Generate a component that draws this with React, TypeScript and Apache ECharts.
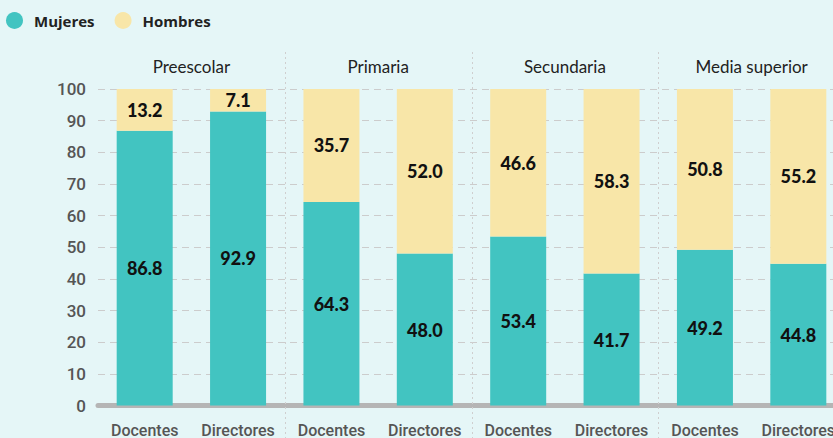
import React, { useEffect, useRef } from "react";
import * as echarts from "echarts";

const categories = ["Docentes", "Directores", "Docentes", "Directores", "Docentes", "Directores", "Docentes", "Directores"];
const groups = ["Preescolar", "Primaria", "Secundaria", "Media superior"];
const mujeres = [86.8, 92.9, 64.3, 48.0, 53.4, 41.7, 49.2, 44.8];
const hombres = [13.2, 7.1, 35.7, 52.0, 46.6, 58.3, 50.8, 55.2];
const yTicks = { min: 0, max: 100, interval: 10 };

const TEAL = "#42C4C1";
const YELLOW = "#F8E6A8";

export default function App() {
  const ref = useRef<HTMLDivElement>(null);
  useEffect(() => {
    if (!ref.current) return;
    const chart = echarts.init(ref.current, null, { renderer: "svg" });
    const labelStyle = {
      show: true,
      position: "inside",
      formatter: (p: any) => Number(p.value).toFixed(1),
      fontFamily: "Lato",
      fontWeight: 900,
      fontSize: 18,
      color: "#111",
    };
    chart.setOption({
      animation: false,
      backgroundColor: "#E5F6F7",
      legend: {
        left: 1,
        top: 7,
        icon: "circle",
        itemWidth: 17,
        itemHeight: 17,
        itemGap: 20,
        textStyle: { fontFamily: "Open Sans", fontWeight: "bold", fontSize: 15, color: "#222", padding: [0, 0, 0, 6] },
        data: ["Mujeres", "Hombres"],
      },
      grid: { left: 98, top: 89, bottom: 30, right: 0, containLabel: false },
      xAxis: [
        {
          type: "category",
          data: categories,
          offset: 2.5,
          axisLine: { lineStyle: { color: "#B5B5B5", width: 5 } },
          axisTick: { show: false },
          axisLabel: { interval: 0, fontFamily: "Roboto", fontWeight: 500, fontSize: 16, color: "#555", margin: 14 },
          z: 0,
        },
        {
          type: "category",
          data: groups,
          position: "top",
          axisLine: { show: false },
          axisTick: { show: false },
          axisLabel: { interval: 0, fontFamily: "Lato", fontSize: 17, color: "#222", margin: 14 },
        },
      ],
      yAxis: {
        type: "value",
        min: yTicks.min,
        max: yTicks.max,
        interval: yTicks.interval,
        axisLine: { show: false },
        axisTick: { show: false },
        axisLabel: { fontFamily: "Roboto", fontWeight: 500, fontSize: 17, color: "#555", margin: 12 },
        splitLine: { lineStyle: { color: "#CCCCCC", type: [7, 5], width: 1 } },
      },
      series: [
        {
          name: "Mujeres",
          type: "bar",
          stack: "total",
          data: mujeres,
          barWidth: 56,
          itemStyle: { color: TEAL },
          label: labelStyle,
          z: 3,
        },
        {
          name: "Hombres",
          type: "bar",
          stack: "total",
          data: hombres,
          barWidth: 56,
          itemStyle: { color: YELLOW },
          label: labelStyle,
          z: 3,
        },
      ],
    });
    const lines: any[] = [];
    for (let g = 1; g < groups.length; g++) {
      const a = chart.convertToPixel({ xAxisIndex: 0 }, 2 * g - 1) as number;
      const b = chart.convertToPixel({ xAxisIndex: 0 }, 2 * g) as number;
      const x = Math.round((a + b) / 2) + 0.5;
      lines.push({
        type: "line",
        shape: { x1: x, y1: 52, x2: x, y2: 438 },
        style: { stroke: "#CFCFCF", lineWidth: 1, lineDash: [2, 3] },
        z: 1,
        silent: true,
      });
    }
    chart.setOption({ graphic: lines });
    return () => chart.dispose();
  }, []);
  return <div ref={ref} style={{ position: "fixed", left: 0, top: 0, width: 845, height: 438 }} />;
}
